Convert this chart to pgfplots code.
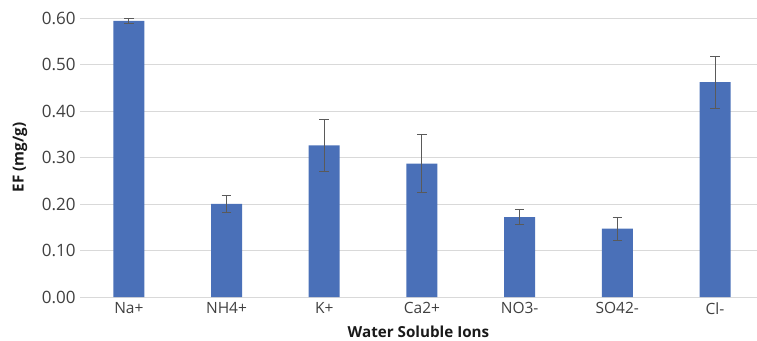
\documentclass[border=0pt]{standalone}
\usepackage{fontspec}
\setmainfont{Open Sans}
\usepackage{pgfplots}
\pgfplotsset{compat=1.18}
\definecolor{barblue}{HTML}{4A70B8}
\definecolor{gridgray}{HTML}{D9D9D9}
\definecolor{tickgray}{HTML}{404040}
\definecolor{errgray}{HTML}{5A5A5A}
\begin{document}
\begin{tikzpicture}
\begin{axis}[
  at={(80pt,43pt)}, anchor=south west,
  scale only axis, width=677pt, height=279pt,
  ymin=0, ymax=0.6, xmin=-0.5, xmax=6.43,
  ytick={0,0.1,0.2,0.3,0.4,0.5,0.6},
  xtick=data,
  xticklabels={Na+,NH4+,K+,Ca2+,NO3-,SO42-,Cl-},
  major tick length=0pt,
  axis line style={draw=none},
  ymajorgrids, major grid style={gridgray, line width=0.8pt},
  ticklabel style={text=tickgray},
  yticklabel style={font=\fontsize{17}{18}\selectfont, xshift=-1pt, /pgf/number format/fixed, /pgf/number format/fixed zerofill, /pgf/number format/precision=2, /pgf/number format/assume math mode=true},
  xticklabel style={font=\fontsize{15.5}{16}\selectfont, yshift=-2pt},
  xlabel={\bfseries Water Soluble Ions},
  ylabel={\bfseries EF (mg/g)},
  label style={font=\fontsize{15.2}{16}\selectfont, text=black!90},
  xlabel style={at={(axis description cs:0.5,0)}, anchor=center, yshift=-35pt},
  ylabel style={at={(axis description cs:-0.0886,0.5)}, anchor=center, rotate=0},
  clip=false,
]
\addplot[ybar, bar width=31pt, fill=barblue, draw=none,
  error bars/.cd, y dir=both, y explicit,
  error bar style={color=errgray, line width=1pt},
  error mark options={rotate=90, mark size=4.8pt, color=errgray, line width=1pt}]
  table[x=x, y=y, y error=e] {
x y e
0 0.594 0.005
1 0.200 0.018
2 0.326 0.056
3 0.287 0.062
4 0.172 0.017
5 0.147 0.025
6 0.462 0.056
};
\end{axis}
\pgfresetboundingbox
\useasboundingbox (0,0) rectangle (757pt,340pt);
\end{tikzpicture}
\end{document}
